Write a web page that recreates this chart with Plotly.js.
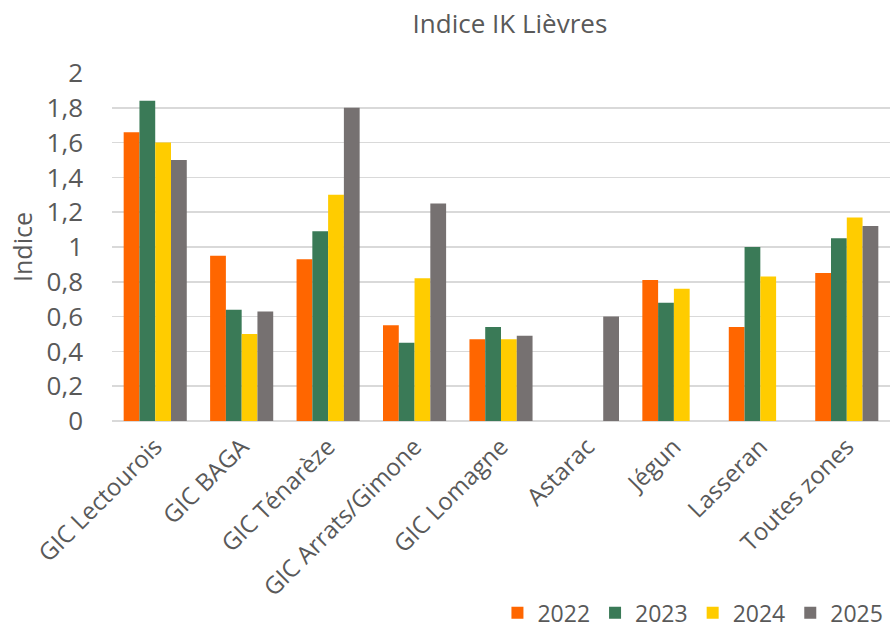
<!DOCTYPE html>
<html><head><meta charset="utf-8">
<script src="https://cdn.plot.ly/plotly-3.0.1.min.js"></script>
<style>html,body{margin:0;padding:0;background:#fff}</style>
</head><body>
<div id="chart" style="width:893px;height:633px"></div>
<script>
const categories = ["GIC Lectourois","GIC BAGA","GIC Ténarèze","GIC Arrats/Gimone","GIC Lomagne","Astarac","Jégun","Lasseran","Toutes zones"];
const v2022 = [1.66, 0.95, 0.93, 0.55, 0.47, null, 0.81, 0.54, 0.85];
const v2023 = [1.84, 0.64, 1.09, 0.45, 0.54, null, 0.68, 1.00, 1.05];
const v2024 = [1.60, 0.50, 1.30, 0.82, 0.47, null, 0.76, 0.83, 1.17];
const v2025 = [1.50, 0.63, 1.80, 1.25, 0.49, 0.60, null, null, 1.12];
const yTicks = [0,0.2,0.4,0.6,0.8,1,1.2,1.4,1.6,1.8,2];
const yTickText = ["0","0,2","0,4","0,6","0,8","1","1,2","1,4","1,6","1,8","2"];

const series = [["2022",v2022,"#FF6600"],["2023",v2023,"#3A7A57"],["2024",v2024,"#FFCC00"],["2025",v2025,"#767171"]];
const data = series.map(s => ({type:"bar", name:s[0], x:categories, y:s[1], marker:{color:s[2]}, hoverinfo:"y"}));
const font = "Open Sans, Liberation Sans, sans-serif";
const layout = {
  width:893, height:633,
  margin:{l:112, r:3, t:73, b:212, autoexpand:false},
  paper_bgcolor:"#fff", plot_bgcolor:"#fff",
  font:{family:font, color:"#595959", size:24},
  title:{text:"Indice IK Lièvres", x:0.571, xanchor:"center", y:0.963, yanchor:"middle", font:{size:26, color:"#595959", family:font}},
  barmode:"group", bargap:0.27, bargroupgap:0,
  xaxis:{tickangle:-45, showgrid:false, showline:false, zeroline:false, ticks:"", tickfont:{size:24, color:"#595959"}, ticklabelstandoff:6, automargin:false},
  yaxis:{range:[0,2], tickvals:yTicks, ticktext:yTickText, showgrid:true, gridcolor:"#D9D9D9", gridwidth:1.5, zeroline:true, zerolinecolor:"#D9D9D9", zerolinewidth:1.5, showline:false, ticks:"", tickfont:{size:26, color:"#595959"}, ticklabelstandoff:28, automargin:false,
    title:{text:"Indice", font:{size:25, color:"#595959"}, standoff:6}},
  showlegend:true,
  legend:{orientation:"h", x:0.998, xanchor:"right", yref:"container", y:0.032, yanchor:"middle", font:{size:23, color:"#595959"}, traceorder:"normal", itemwidth:30}
};
Plotly.newPlot("chart", data, layout, {displayModeBar:false, staticPlot:true});
</script>
</body></html>
